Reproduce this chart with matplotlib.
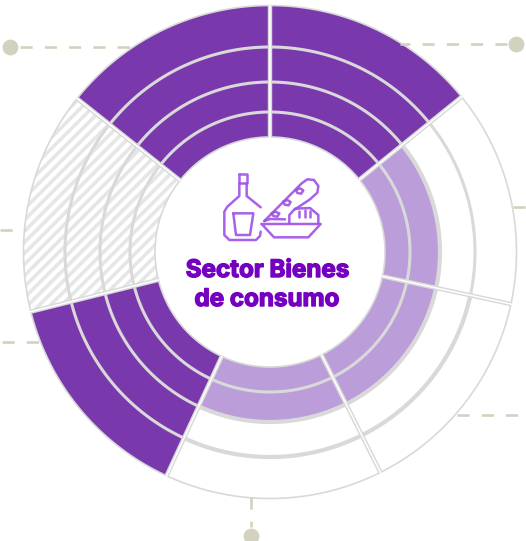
import numpy as np
import matplotlib
matplotlib.use("Agg")
import matplotlib.pyplot as plt
import matplotlib.patheffects as pe

# ============================
# Data
# ============================
# state of each ring, inner -> outer, clockwise from the top
sector_1 = ["dark", "dark", "dark", "dark"]
sector_2 = ["light", "light", "none", "none"]
sector_3 = ["light", "light", "none", "none"]
sector_4 = ["light", "light", "none", "none"]
sector_5 = ["dark", "dark", "dark", "dark"]
sector_6 = ["hatch", "hatch", "hatch", "hatch"]
sector_7 = ["dark", "dark", "dark", "dark"]
sectors = [sector_1, sector_2, sector_3, sector_4, sector_5, sector_6, sector_7]
sector_edges_deg = [0, 51, 102.2, 153.4, 204.8, 256, 308.5, 360]
ring_edges = [115, 140, 170, 205, 246.5]

DARK = "#7a38ad"
LIGHT = "#bb9ed9"
GREY = "#d9d9d9"
DASH = "#d2d2bf"
TITLE = "#7500c0"
ICON = "#a050e6"

W, H = 526, 541
CX, CY, R = 270, 252, 250

plt.rcParams["hatch.linewidth"] = 2.6
plt.rcParams["font.family"] = ["Inter", "DejaVu Sans"]

fig = plt.figure(figsize=(W / 100, H / 100), dpi=100)
fig.patch.set_facecolor("white")

# ============================
# Rings
# ============================
ax = fig.add_axes([(CX - R) / W, (H - CY - R) / H, 2 * R / W, 2 * R / H], projection="polar")
ax.set_theta_zero_location("N")
ax.set_theta_direction(-1)
ax.set_ylim(0, R)
ax.axis("off")

edges = np.deg2rad(sector_edges_deg)
for i, rings in enumerate(sectors):
    start, width = edges[i], edges[i + 1] - edges[i]
    for j, state in enumerate(rings):
        bottom, top = ring_edges[j], ring_edges[j + 1]
        if state == "dark":
            ax.bar(start, top - bottom, width=width, bottom=bottom, align="edge", color=DARK, lw=0, zorder=1)
        elif state == "light":
            ax.bar(start, top - bottom, width=width, bottom=bottom, align="edge", color=LIGHT, lw=0, zorder=1)
        elif state == "hatch":
            ax.bar(start, top - bottom, width=width, bottom=bottom, align="edge", color="white",
                   edgecolor="#e6e6e6", hatch="///", lw=0, zorder=1)

    # ring outlines
    t = np.linspace(start, start + width, 60)
    for j, r in enumerate(ring_edges):
        lw = 1.2 if j in (0, 4) else 2.2
        if j == 2 and rings[1] == "light":
            lw = 3.0
        if j == 3 and i in (2, 3):
            lw = 3.0
        ax.plot(t, np.full_like(t, r), color=GREY, lw=lw, zorder=2)

# sector separators: grey with a white core
for a in edges[:-1]:
    ax.plot([a, a], [ring_edges[0], ring_edges[-1]], color=GREY, lw=3.2, zorder=3, solid_capstyle="butt")
    ax.plot([a, a], [ring_edges[0] - 1, ring_edges[-1] + 2], color="white", lw=1.1, zorder=4, solid_capstyle="butt")

# ============================
# Overlay in pixel coordinates: connectors, icon, title
# ============================
ov = fig.add_axes([0, 0, 1, 1], facecolor="none")
ov.set_xlim(0, W)
ov.set_ylim(H, 0)
ov.axis("off")

connectors = [
    ((20, 47), (133, 47)),
    ((507, 44), (400, 44)),
    ((513, 207), (526, 207)),
    ((0, 230), (25, 230)),
    ((2, 342), (42, 342)),
    ((457, 415), (526, 415)),
    ((251, 497), (251, 527)),
]
for (x0, y0), (x1, y1) in connectors:
    ov.plot([x0, x1], [y0, y1], color=DASH, lw=1.9, dashes=(4.6, 4.6), zorder=0)
ov.scatter([10, 516, 251], [47, 44, 536], s=130, color=DASH, lw=0, zorder=5)


def icon_line(points, closed=False):
    # points read in the 3x zoom of the icon
    xs = [170 + p[0] / 3 for p in points]
    ys = [150 + p[1] / 3 for p in points]
    if closed:
        xs.append(xs[0])
        ys.append(ys[0])
    ov.plot(xs, ys, color=ICON, lw=1.8, alpha=0.9, solid_joinstyle="round", solid_capstyle="round", zorder=6)


# bottle
icon_line([(208, 72), (230, 72), (230, 100), (208, 100)], closed=True)
icon_line([(208, 100), (208, 138), (172, 170), (163, 185), (163, 255), (178, 270), (258, 270), (270, 258), (272, 245)])
icon_line([(230, 100), (230, 138), (272, 172)])
icon_line([(190, 190), (250, 190), (240, 255), (198, 255)], closed=True)
# baguette
icon_line([(283, 213), (395, 100), (412, 88), (432, 90), (445, 108), (442, 128), (420, 148), (375, 178)])
icon_line([(283, 213), (300, 207), (345, 208)])
icon_line([(305, 190), (315, 185), (328, 190), (322, 200), (310, 198)], closed=True)
icon_line([(340, 155), (352, 150), (362, 156), (356, 166), (344, 164)], closed=True)
icon_line([(378, 120), (390, 115), (400, 121), (394, 131), (382, 129)], closed=True)
# bowl and bread
icon_line([(275, 222), (452, 222), (415, 262), (312, 262)], closed=True)
icon_line([(358, 220), (358, 195), (375, 176), (420, 174), (445, 195), (445, 220)])
icon_line([(388, 182), (388, 200)])
icon_line([(404, 180), (404, 200)])
icon_line([(420, 182), (420, 200)])

stroke = [pe.withStroke(linewidth=1.0, foreground=TITLE)]
ov.text(267.5, 271, "Sector Bienes", color=TITLE, fontsize=17.4, fontweight="bold", ha="center", va="center",
        zorder=7, path_effects=stroke)
ov.text(267, 300, "de consumo", color=TITLE, fontsize=17.4, fontweight="bold", ha="center", va="center",
        zorder=7, path_effects=stroke)

fig.savefig("out.png", dpi=100)
